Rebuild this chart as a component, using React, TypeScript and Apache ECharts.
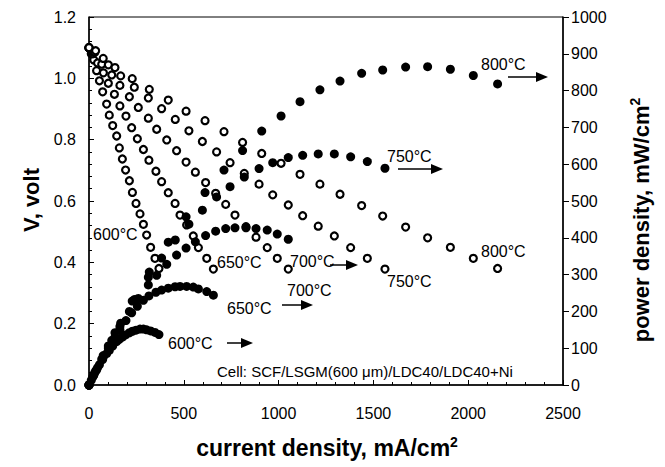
import React, { useEffect, useRef } from "react";
import * as echarts from "echarts";

// current density (mA/cm2), voltage (V), power density (mW/cm2) per temperature
const I600 = [0, 12, 25, 40, 55, 72, 93, 107, 125, 146, 160, 176, 193, 213, 229, 248, 269, 287, 304, 325, 348, 369];
const V600 = [1.10, 1.08, 1.06, 1.025, 0.992, 0.956, 0.916, 0.880, 0.846, 0.812, 0.773, 0.737, 0.701, 0.666, 0.628, 0.592, 0.558, 0.524, 0.489, 0.449, 0.413, 0.380];
const P600 = [0, 13, 27, 41, 55, 69, 85, 94, 106, 118, 124, 130, 136, 142, 146, 149, 152, 152, 150, 147, 143, 137];

const I650 = [0, 20, 45, 76, 102, 134, 163, 195, 225, 255, 287, 316, 353, 383, 418, 454, 480, 515, 550, 577, 621, 656];
const V650 = [1.10, 1.08, 1.05, 1.018, 0.984, 0.948, 0.910, 0.877, 0.839, 0.803, 0.768, 0.733, 0.697, 0.663, 0.627, 0.592, 0.554, 0.522, 0.486, 0.448, 0.413, 0.378];
const P650 = [0, 22, 47, 77, 100, 127, 150, 175, 196, 214, 230, 242, 252, 258, 263, 267, 268, 268, 266, 261, 254, 244];

const I700 = [0, 25, 67, 120, 163, 213, 260, 313, 357, 410, 462, 512, 561, 615, 668, 721, 770, 828, 881, 940, 993, 1051];
const V700 = [1.10, 1.085, 1.046, 1.011, 0.977, 0.940, 0.905, 0.870, 0.834, 0.799, 0.764, 0.727, 0.694, 0.660, 0.625, 0.589, 0.554, 0.516, 0.482, 0.448, 0.413, 0.378];
const P700 = [0, 27, 70, 121, 159, 200, 235, 272, 298, 328, 353, 372, 389, 406, 418, 425, 427, 427, 425, 421, 410, 396];

const I750 = [0, 30, 102, 167, 239, 313, 383, 455, 527, 598, 673, 744, 819, 897, 969, 1051, 1127, 1209, 1294, 1380, 1468, 1561];
const V750 = [1.10, 1.085, 1.044, 1.008, 0.971, 0.936, 0.901, 0.866, 0.829, 0.794, 0.760, 0.725, 0.690, 0.655, 0.620, 0.587, 0.552, 0.518, 0.486, 0.448, 0.413, 0.378];
const P750 = [0, 33, 106, 168, 232, 293, 345, 394, 437, 475, 511, 539, 565, 588, 604, 618, 624, 628, 628, 620, 607, 589];

const I800 = [0, 35, 75, 137, 228, 318, 418, 512, 612, 712, 810, 911, 1013, 1113, 1218, 1324, 1438, 1549, 1670, 1786, 1906, 2027, 2155];
const V800 = [1.10, 1.09, 1.065, 1.035, 0.999, 0.964, 0.929, 0.893, 0.862, 0.826, 0.791, 0.755, 0.723, 0.687, 0.655, 0.622, 0.585, 0.551, 0.515, 0.480, 0.449, 0.413, 0.380];
const P800 = [0, 38, 80, 142, 228, 307, 388, 457, 523, 584, 637, 690, 731, 770, 802, 826, 847, 856, 864, 865, 858, 841, 818];

const xTicks = [0, 500, 1000, 1500, 2000, 2500];
const leftTicks = ["0.0", "0.2", "0.4", "0.6", "0.8", "1.0", "1.2"];

const FONT = "'Liberation Sans', Arial, Helvetica, sans-serif";

const zip = (xs: number[], ys: number[]) => xs.map((x, i) => [x, ys[i]]);

function openSeries(name: string, xs: number[], ys: number[]) {
  return {
    name: name + " V",
    type: "scatter",
    yAxisIndex: 0,
    symbol: "circle",
    symbolSize: 7,
    itemStyle: { color: "#fff", borderColor: "#000", borderWidth: 2.2, opacity: 1 },
    emphasis: { disabled: true },
    data: zip(xs, ys),
    z: 3,
  };
}
function filledSeries(name: string, xs: number[], ys: number[]) {
  return {
    name: name + " P",
    type: "scatter",
    yAxisIndex: 1,
    symbol: "circle",
    symbolSize: 9,
    itemStyle: { color: "#000", opacity: 1 },
    emphasis: { disabled: true },
    data: zip(xs, ys),
    z: 4,
  };
}

function label(text: string, x: number, y: number, size = 16) {
  return {
    type: "text",
    x,
    y,
    z: 10,
    style: { text, font: `${size}px ${FONT}`, fill: "#000", textAlign: "left", textVerticalAlign: "middle" },
  };
}
function arrow(x1: number, x2: number, y: number) {
  return [
    { type: "line", z: 10, shape: { x1, y1: y, x2: x2 - 8, y2: y }, style: { stroke: "#000", lineWidth: 1.5 } },
    {
      type: "polygon",
      z: 10,
      shape: { points: [[x2 - 12, y - 5], [x2, y], [x2 - 12, y + 5]] },
      style: { fill: "#000" },
    },
  ];
}

export default function App() {
  const ref = useRef<HTMLDivElement>(null);
  useEffect(() => {
    const chart = echarts.init(ref.current!, null, { renderer: "svg" });
    const tickLabel = { color: "#000", fontSize: 16, fontFamily: FONT };
    const option: any = {
      animation: false,
      backgroundColor: "#fff",
      grid: { left: 89, right: 102, top: 17, bottom: 82, show: true, borderColor: "#000", borderWidth: 1, backgroundColor: "transparent" },
      xAxis: {
        type: "value",
        min: xTicks[0],
        max: xTicks[xTicks.length - 1],
        interval: 500,
        axisLine: { show: true, lineStyle: { color: "#000", width: 1.5 } },
        axisTick: { show: true, inside: true, length: 5, lineStyle: { color: "#000" } },
        minorTick: { show: true, splitNumber: 5, length: 3, lineStyle: { color: "#000" } },
        splitLine: { show: false },
        axisLabel: { ...tickLabel, margin: 20, formatter: (v: number) => String(v) },
      },
      yAxis: [
        {
          type: "value",
          min: 0,
          max: 1.2,
          interval: 0.2,
          position: "left",
          axisLine: { show: true, onZero: false, lineStyle: { color: "#000", width: 1.5 } },
          axisTick: { show: true, inside: true, length: 5, lineStyle: { color: "#000" } },
          minorTick: { show: true, splitNumber: 5, length: 3, lineStyle: { color: "#000" } },
          splitLine: { show: false },
          axisLabel: { ...tickLabel, margin: 13, formatter: (v: number) => leftTicks[Math.round(v / 0.2)] ?? v.toFixed(1) },
        },
        {
          type: "value",
          min: 0,
          max: 1000,
          interval: 100,
          position: "right",
          axisLine: { show: true, onZero: false, lineStyle: { color: "#000", width: 1.5 } },
          axisTick: { show: true, inside: false, length: 6, lineStyle: { color: "#000" } },
          splitLine: { show: false },
          axisLabel: { ...tickLabel, margin: 8, formatter: (v: number) => String(v) },
        },
      ],
      series: [
        openSeries("600", I600, V600),
        openSeries("650", I650, V650),
        openSeries("700", I700, V700),
        openSeries("750", I750, V750),
        openSeries("800", I800, V800),
        filledSeries("600", I600, P600),
        filledSeries("650", I650, P650),
        filledSeries("700", I700, P700),
        filledSeries("750", I750, P750),
        filledSeries("800", I800, P800),
      ],
      graphic: [
        {
          type: "text",
          x: 31,
          y: 200,
          rotation: Math.PI / 2,
          style: { text: "V, volt", font: `bold 22px ${FONT}`, fill: "#000", textAlign: "center", textVerticalAlign: "middle" },
        },
        {
          type: "text",
          x: 640,
          y: 220,
          rotation: Math.PI / 2,
          style: {
            text: "{a|power density, mW/cm}{s|2}",
            textAlign: "center",
            textVerticalAlign: "middle",
            rich: {
              a: { font: `bold 22px ${FONT}`, fill: "#000", lineHeight: 24, verticalAlign: "bottom" },
              s: { font: `bold 14px ${FONT}`, fill: "#000", verticalAlign: "top" },
            },
          },
        },
        {
          type: "text",
          x: 327,
          y: 447,
          style: {
            text: "{a|current density, mA/cm}{s|2}",
            textAlign: "center",
            textVerticalAlign: "middle",
            rich: {
              a: { font: `bold 23px ${FONT}`, fill: "#000", lineHeight: 24, verticalAlign: "bottom" },
              s: { font: `bold 14px ${FONT}`, fill: "#000", verticalAlign: "top" },
            },
          },
        },
        label("Cell: SCF/LSGM(600 \u03bcm)/LDC40/LDC40+Ni", 217, 371, 15),
        // voltage curve labels
        label("600°C", 93, 234),
        label("650°C", 217, 262),
        label("700°C", 287, 290),
        label("750°C", 387, 281),
        label("800°C", 481, 251),
        // power curve labels with arrows
        label("800°C", 481, 64),
        ...arrow(508, 548, 77),
        label("750°C", 387, 156),
        ...arrow(398, 443, 169),
        label("700°C", 290, 261),
        ...arrow(330, 358, 265),
        label("650°C", 227, 308),
        ...arrow(282, 313, 305),
        label("600°C", 168, 343),
        ...arrow(227, 253, 343),
      ],
    };
    chart.setOption(option);
    return () => chart.dispose();
  }, []);
  return (
    <div
      ref={ref}
      style={{ position: "fixed", left: 0, top: 0, width: 665, height: 467, background: "#fff" }}
    />
  );
}
